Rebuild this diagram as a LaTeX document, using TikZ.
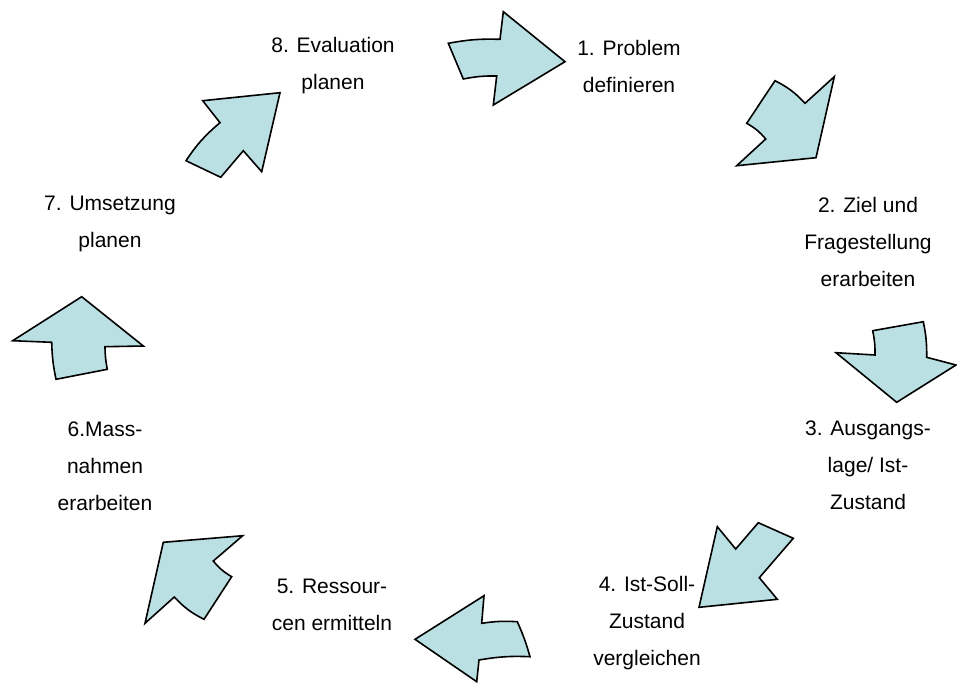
\documentclass[tikz,border=0pt]{standalone}
\usepackage{fontspec}
\setmainfont{Liberation Sans}
\definecolor{arrowfill}{RGB}{187,224,227}
\begin{document}
\begin{tikzpicture}[x=1pt,y=-1pt,
  bigarrow/.style={draw=black,fill=arrowfill,line width=1.6pt,line join=miter},
  lbl/.style={align=center,inner sep=0pt,font=\fontsize{21}{37}\selectfont}]
\useasboundingbox (0,0) rectangle (957,683);
% arrows
\draw[bigarrow] (448.3,43.3) to[bend left=6] (500,39.3) -- (503.3,11.7) -- (565,61.7) -- (493.3,105) -- (496.7,76) to[bend right=6] (463.3,79) -- cycle;
\draw[bigarrow] (775,80.7) to[bend left=10] (805,103.3) -- (834.3,76.7) -- (816,157.7) -- (736.7,165.7) -- (765.7,139) to[bend right=10] (746.7,123.3) -- cycle;
\draw[bigarrow] (872.7,330.7) -- (923.3,321.7) to[bend left=6] (926.7,357.3) -- (956,365) -- (896.7,402.3) -- (836,352.7) -- (875,355) to[bend right=6] cycle;
\draw[bigarrow] (717.3,526.7) -- (735.7,549) -- (758.3,522.7) -- (793.3,538.3) -- (759.3,577.7) -- (777.3,599.3) -- (699,607.3) -- cycle;
\draw[bigarrow] (484,595.7) -- (481.7,623.3) to[bend left=6] (517.3,621.7) to[bend left=4] (530,656.7) to[bend right=6] (479,660) -- (476.7,681.7) -- (415,639.3) -- cycle;
\draw[bigarrow] (163.3,542.3) -- (242.7,535.7) -- (213.3,561) to[bend right=10] (231.7,576.7) -- (204,619.3) to[bend left=10] (174.3,597) -- (145,623.3) -- cycle;
\draw[bigarrow] (81.7,296.7) -- (143.3,346) -- (105,346.7) to[bend right=5] (107.3,369.3) -- (56,379.3) to[bend left=5] (51.7,342.3) -- (12.7,340.7) -- cycle;
\draw[bigarrow] (202.7,100.7) -- (280,92.7) -- (261.7,171.7) -- (243.3,150.7) -- (220.7,177.3) -- (186,160.7) to[bend left=8] (220,122.7) -- cycle;
% labels
\node[lbl] (l8) at (333,66) {8. Evaluation\\planen};
\node[lbl] (l1) at (629,66) {1. Problem\\definieren};
\node[lbl] (l2) at (868,242) {2. Ziel und\\Fragestellung\\erarbeiten};
\node[lbl] (l7) at (110,224) {7. Umsetzung\\planen};
\node[lbl] (l6) at (105,466) {6.Mass-\\nahmen\\erarbeiten};
\node[lbl] (l3) at (868,465) {3. Ausgangs-\\lage/ Ist-\\Zustand};
\node[lbl] (l5) at (332,605) {5. Ressour-\\cen ermitteln};
\node[lbl] (l4) at (647,623) {4. Ist-Soll-\\Zustand\\vergleichen};
\end{tikzpicture}
\end{document}
